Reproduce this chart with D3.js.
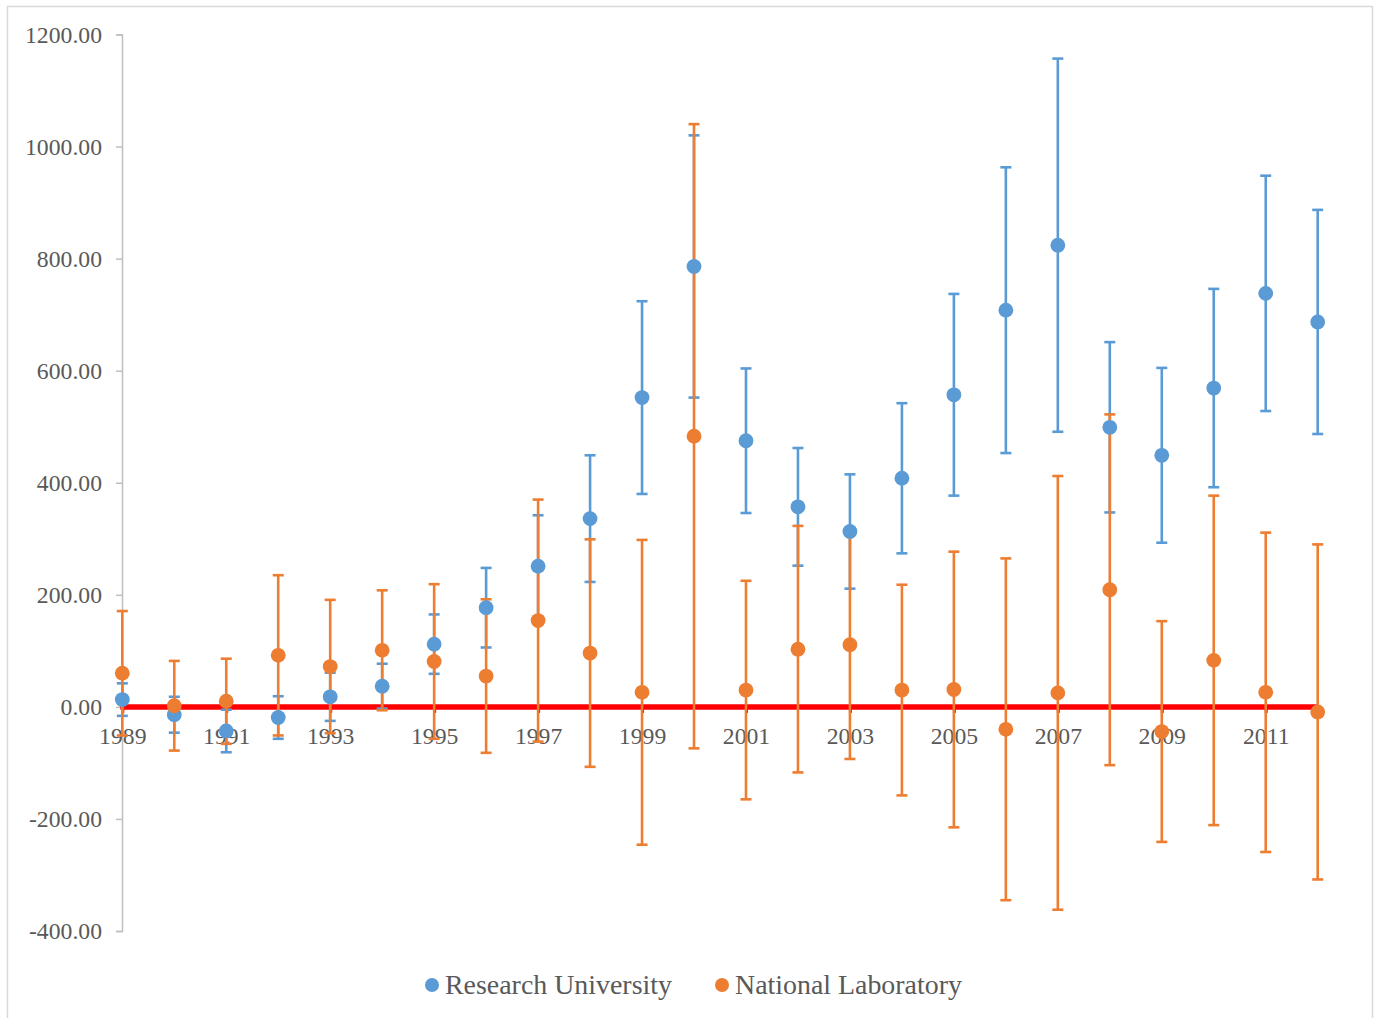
<!DOCTYPE html>
<html><head><meta charset="utf-8">
<script src="https://cdn.jsdelivr.net/npm/d3@7"></script>
<style>body{margin:0;background:#fff;} svg{display:block;}</style>
</head><body>
<svg id="chart" width="1380" height="1018"></svg>
<script>
const years = [1989,1990,1991,1992,1993,1994,1995,1996,1997,1998,1999,2000,2001,2002,2003,2004,2005,2006,2007,2008,2009,2010,2011,2012];
const ruMean = [13,-14,-43,-19,18,37,112,177,251,336,552,786,475,357,313,408,557,708,824,499,449,569,738,687];
const ruErr  = [29,32,38,38,43,40,53,71,91,113,172,234,129,105,102,134,180,255,333,152,156,177,210,200];
const nlMean = [60,2,10,92,72,101,81,55,154,96,26,483,30,103,111,30,31,-40,25,209,-44,83,26,-9];
const nlErr  = [111,80,76,143,119,107,138,137,216,203,272,557,195,220,204,188,246,305,387,313,197,294,285,299];
const yTicks = [-400,-200,0,200,400,600,800,1000,1200];
const xTickYears = [1989,1991,1993,1995,1997,1999,2001,2003,2005,2007,2009,2011];
const seriesNames = ["Research University","National Laboratory"];
const colors = ["#5b9bd5","#ed7d31"];

const svg = d3.select("#chart");
const font = "'Liberation Serif','Times New Roman',serif";

svg.append("rect").attr("x",7.5).attr("y",6.5).attr("width",1365).attr("height",1015)
  .attr("fill","#fff").attr("stroke","#d9d9d9").attr("stroke-width",1.5);

const x = d3.scaleLinear().domain([1989,2012]).range([122.3,1317.7]);
const y = d3.scaleLinear().domain([-400,1200]).range([931,34.5]);

const fmt = d => d3.format(".2f")(d).replace("\u2212","-");

// y axis
const yAxis = svg.append("g").attr("transform","translate(122,0)")
  .call(d3.axisLeft(y).tickValues(yTicks).tickSize(6).tickPadding(14).tickFormat(fmt));
yAxis.select(".domain").attr("stroke","#bfbfbf").attr("stroke-width",1.5);
yAxis.selectAll(".tick line").attr("stroke","#bfbfbf").attr("stroke-width",1.5);
yAxis.selectAll(".tick text").attr("fill","#595959").style("font-family",font).style("font-size","23.7px");

// x axis (red) at y=0
const xAxis = svg.append("g").attr("transform",`translate(0,${y(0)})`)
  .call(d3.axisBottom(x).tickValues(xTickYears).tickSize(6).tickPadding(14).tickFormat(d3.format("d")));
xAxis.select(".domain").attr("stroke","#ff0000").attr("stroke-width",5.5)
  .attr("d",`M${x(1989)-2},0H${x(2012)}`);
xAxis.selectAll(".tick line").attr("stroke","#ff0000").attr("stroke-width",3);
xAxis.selectAll(".tick text").attr("fill","#595959").style("font-family",font).style("font-size","23.7px");

const series = [
  {mean: ruMean, err: ruErr, color: colors[0]},
  {mean: nlMean, err: nlErr, color: colors[1]}
];
const capW = 5.5;
series.forEach(s => {
  const g = svg.append("g").attr("stroke",s.color).attr("stroke-width",2.6).attr("fill","none");
  years.forEach((yr,i) => {
    const cx = x(yr), top = y(s.mean[i]+s.err[i]), bot = y(s.mean[i]-s.err[i]);
    g.append("line").attr("x1",cx).attr("x2",cx).attr("y1",top).attr("y2",bot);
    g.append("line").attr("x1",cx-capW).attr("x2",cx+capW).attr("y1",top).attr("y2",top);
    g.append("line").attr("x1",cx-capW).attr("x2",cx+capW).attr("y1",bot).attr("y2",bot);
  });
});
series.forEach(s => {
  svg.append("g").selectAll("circle").data(years).join("circle")
    .attr("cx",d=>x(d)).attr("cy",(d,i)=>y(s.mean[i])).attr("r",7.4).attr("fill",s.color);
});

// legend
const legendPos = [432,722];
seriesNames.forEach((name,i) => {
  svg.append("circle").attr("cx",legendPos[i]).attr("cy",985).attr("r",7).attr("fill",colors[i]);
  svg.append("text").attr("x",legendPos[i]+13).attr("y",993.5).text(name)
    .attr("fill","#595959").style("font-family",font).style("font-size","27.9px");
});
</script>
</body></html>
